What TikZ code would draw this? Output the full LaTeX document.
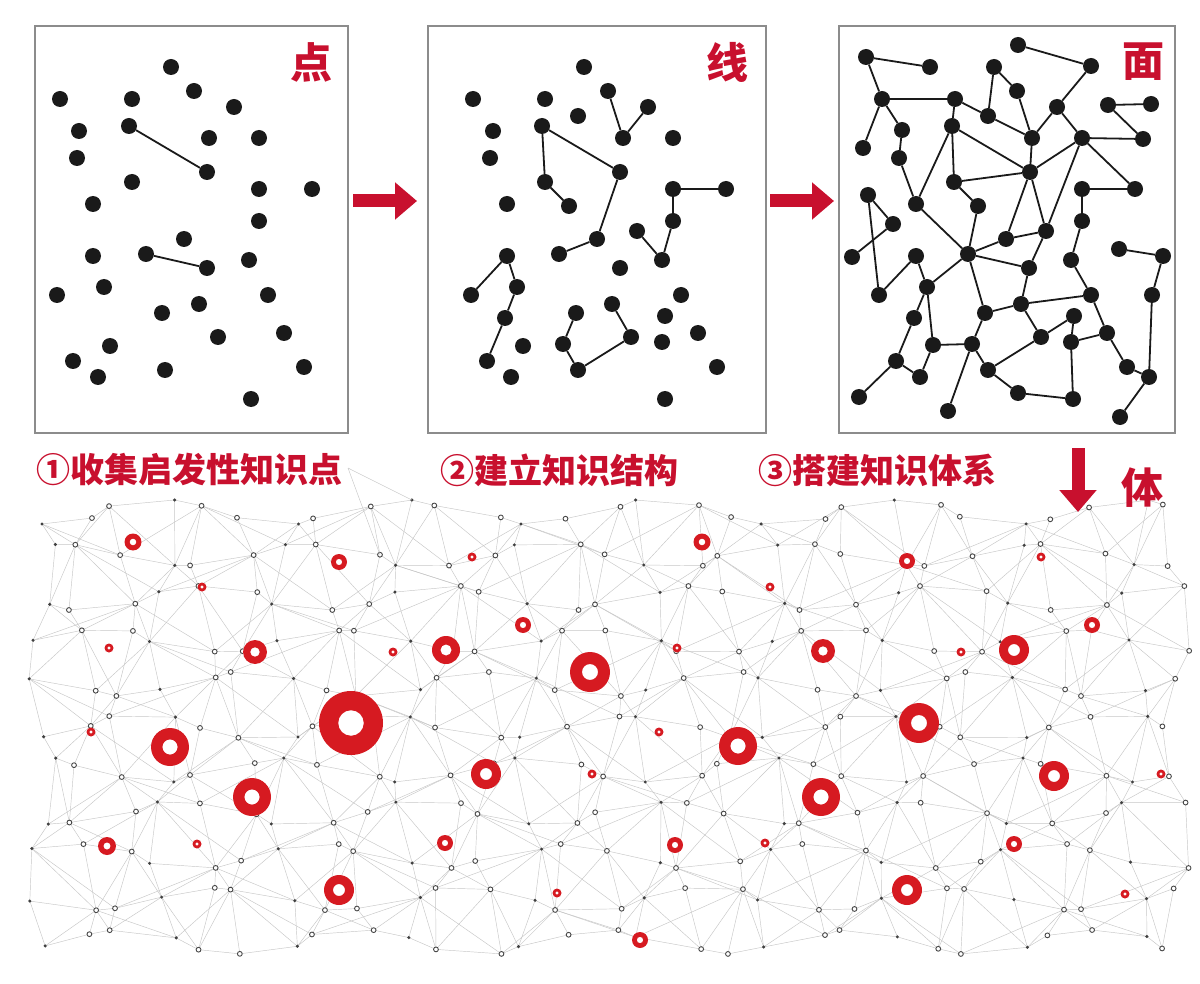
\documentclass[tikz,border=0pt]{standalone}
\usepackage{fontspec}
\newfontfamily\cjk{Noto Sans CJK SC}
\usetikzlibrary{arrows.meta}
\definecolor{cnred}{RGB}{200,16,46}
\definecolor{ringred}{RGB}{214,26,33}
\definecolor{dotblk}{RGB}{26,26,26}
\tikzset{
  blackdot/.style={circle,fill=dotblk,inner sep=0pt,minimum size=16pt},
  link/.style={line width=1.8pt,draw=dotblk},
  panel/.style={draw=black!45,line width=1.2pt,inner sep=0pt},
  mesh/.style={draw=black!22,line width=0.45pt},
  lab/.style={font=\cjk\bfseries\fontsize{34pt}{34pt}\selectfont,text=cnred,inner sep=0pt},
  biglab/.style={font=\cjk\bfseries\fontsize{42pt}{42pt}\selectfont,text=cnred,inner sep=0pt},
  redarrow/.style={draw=cnred,line width=13pt,-{Triangle[length=22pt,width=36pt]}},
}
\newcommand{\myring}[3]{%
  \pgfmathsetmacro\rout{#3}%
  \pgfmathsetmacro\rin{0.4*#3}%
  \fill[white] (#1,#2) circle (\rout pt);
  \fill[ringred,even odd rule] (#1,#2) circle (\rout pt) circle (\rin pt);}
\begin{document}
\begin{tikzpicture}[x=1pt,y=-1pt]
\useasboundingbox (0,0) rectangle (1200,984);
\fill[white] (0,0) rectangle (1200,984);

% ---------- mesh ----------
\foreach \i in {0,...,28}{\foreach \j in {0,...,10}{
  \pgfmathsetmacro\px{42+\i*40.5+14*sin(\i*137.5+\j*73.3)}
  \pgfmathsetmacro\py{512+\j*43+12*cos(\i*59.7+\j*151.1)}
  \coordinate (m-\i-\j) at (\px,\py);
}}
\foreach \i in {0,...,27}{\foreach \j in {0,...,10}{
  \pgfmathtruncatemacro\ia{\i+1}
  \draw[mesh] (m-\i-\j) -- (m-\ia-\j);
}}
\foreach \i in {0,...,28}{\foreach \j in {0,...,9}{
  \pgfmathtruncatemacro\jb{\j+1}
  \draw[mesh] (m-\i-\j) -- (m-\i-\jb);
}}
\foreach \i in {0,...,27}{\foreach \j in {0,...,9}{
  \pgfmathtruncatemacro\ia{\i+1}
  \pgfmathtruncatemacro\jb{\j+1}
  \pgfmathtruncatemacro\pp{mod(\i+\j,2)}
  \ifnum\pp=0 \draw[mesh] (m-\i-\j) -- (m-\ia-\jb);
  \else \draw[mesh] (m-\ia-\j) -- (m-\i-\jb); \fi
}}
\foreach \i in {0,...,26}{\foreach \j in {0,...,9}{
  \pgfmathtruncatemacro\ib{\i+2}
  \pgfmathtruncatemacro\jb{\j+1}
  \pgfmathtruncatemacro\qq{mod(\i*3+\j*5,4)}
  \ifnum\qq=0 \draw[mesh] (m-\i-\j) -- (m-\ib-\jb); \fi
  \ifnum\qq=2 \draw[mesh] (m-\ib-\j) -- (m-\i-\jb); \fi
}}
\foreach \i in {0,...,28}{\foreach \j in {0,...,10}{
  \pgfmathtruncatemacro\tq{mod(\i*7+\j*3,3)}
  \ifnum\tq=0 \fill[black!75] (m-\i-\j) circle (1.7pt);
  \else \draw[black!72,line width=0.9pt,fill=white] (m-\i-\j) circle (2.4pt); \fi
}}
\coordinate (lt) at (348,468);
\draw[mesh] (lt) -- (m-8-1);
\draw[mesh] (lt) -- (m-9-0);

% ---------- rings ----------
\foreach \x/\y/\r in {133/542/8.5, 339/562/8, 202/587/4.5, 109/648/4.5, 255/652/12,
  393/652/4.5, 446/650/14, 472/557/4.5, 523/625/8, 590/672/20, 351/723/32,
  170/747/19, 91/732/4.5, 252/797/19, 107/846/9, 197/844/4.5, 339/890/15,
  486/774/15, 592/774/4.5, 445/843/8, 557/893/4.5, 640/940/8, 675/845/8,
  659/732/4.5, 677/648/4.5, 702/542/8.5, 770/587/4.5, 738/746/19, 823/651/12,
  907/561/8, 1041/557/4.5, 1092/625/8, 1014/650/15, 961/652/4.5, 919/723/20,
  821/797/19, 1054/776/15, 1161/774/4.5, 765/843/4.5, 1014/844/8, 907/890/15,
  1125/894/4.5}
  {\myring{\x}{\y}{\r}}

% ---------- panels ----------
\node[panel,minimum width=313pt,minimum height=407pt] (box1) at (191.5,229.5) {};
\node[panel,minimum width=338pt,minimum height=407pt] (box2) at (597,229.5) {};
\node[panel,minimum width=336pt,minimum height=407pt] (box3) at (1007,229.5) {};

\node[biglab] (t1) at (311,62) {点};
\node[biglab] (t2) at (727,62) {线};
\node[biglab] (t3) at (1143,62) {面};

% panel 1
\foreach \n/\x/\y in {1/171/67,2/194/91,3/60/99,4/132/99,5/234/107,6/79/131,7/129/126,
  8/209/138,9/259/138,10/77/158,11/207/172,12/132/182,13/259/189,14/312/189,15/93/204,
  16/259/221,17/184/239,18/93/256,19/146/254,20/207/268,21/249/260,22/104/287,23/57/295,
  24/268/295,25/199/304,26/162/313,27/284/333,28/218/337,29/110/346,30/73/361,31/165/370,
  32/304/367,33/98/377,34/251/399}
  {\node[blackdot] (A\n) at (\x,\y) {};}
\foreach \a/\b in {7/11,19/20} {\draw[link] (A\a) -- (A\b);}

% panel 2
\foreach \n/\x/\y in {1/584/67,2/608/91,3/473/99,4/545/99,5/648/107,6/578/116,7/493/131,
  8/542/126,9/623/138,10/673/138,11/490/158,12/620/172,13/545/182,14/673/189,15/726/189,
  16/569/206,17/507/204,18/673/221,19/637/231,20/597/239,21/559/254,22/507/256,23/662/260,
  24/620/268,25/517/287,26/471/295,27/681/295,28/612/304,29/576/313,30/665/316,31/505/318,
  32/631/337,33/698/333,34/523/346,35/563/344,36/662/342,37/487/361,38/578/370,39/717/367,
  40/511/377,41/665/399}
  {\node[blackdot] (B\n) at (\x,\y) {};}
\foreach \a/\b in {2/9,9/5,8/12,8/13,13/16,12/20,20/21,14/15,14/18,18/23,23/19,22/26,
  22/25,25/31,31/37,29/35,35/38,38/32,32/28} {\draw[link] (B\a) -- (B\b);}

% panel 3
\foreach \n/\x/\y in {1/1018/45,2/866/57,3/930/67,4/1091/66,5/994/67,6/1017/91,7/882/99,
  8/955/99,9/1057/107,10/1108/105,11/1151/104,12/988/116,13/952/126,14/902/130,15/1032/138,
  16/1082/138,17/1143/139,18/863/148,19/899/158,20/1030/172,21/954/182,22/1082/189,
  23/1135/189,24/868/195,25/916/204,26/978/206,27/893/224,28/1082/221,29/1046/231,
  30/1006/239,31/852/257,32/1119/249,33/1163/256,34/916/256,35/968/254,36/1071/260,
  37/1029/268,38/879/295,39/927/287,40/1091/295,41/1152/295,42/1021/304,43/985/313,
  44/1074/316,45/914/318,46/1041/337,47/1107/333,48/933/345,49/972/344,50/1071/342,
  51/896/361,52/988/370,53/1127/367,54/1149/377,55/920/377,56/1018/393,57/1073/399,
  58/859/397,59/948/411,60/1120/417}
  {\node[blackdot] (C\n) at (\x,\y) {};}
\foreach \a/\b in {2/3,2/7,1/4,4/9,5/6,5/12,7/8,7/18,7/14,8/12,8/13,12/15,6/15,9/15,
  9/16,10/11,10/17,16/17,16/23,16/20,16/29,15/20,13/20,13/21,13/25,14/19,19/25,21/26,
  26/35,20/21,20/30,20/29,25/35,22/23,22/28,28/36,36/40,24/27,24/38,27/31,38/34,34/39,
  35/39,35/30,35/37,35/43,29/30,29/37,37/42,39/45,39/48,45/51,51/55,51/58,48/55,48/49,
  43/49,43/42,42/40,42/46,46/44,49/52,49/59,52/46,52/56,56/57,50/47,44/50,50/57,40/47,
  47/53,53/54,32/33,33/41,41/54,54/60} {\draw[link] (C\a) -- (C\b);}

% ---------- arrows ----------
\coordinate (r1s) at (353,201); \coordinate (r1e) at (417,201);
\coordinate (r2s) at (770,201); \coordinate (r2e) at (834,201);
\coordinate (r3s) at (1078,448); \coordinate (r3e) at (1078,512);
\draw[redarrow] (r1s) -- (r1e);
\draw[redarrow] (r2s) -- (r2e);
\draw[redarrow] (r3s) -- (r3e);

% ---------- labels ----------
\node[lab,anchor=west] (s1) at (36,470) {①收集启发性知识点};
\node[lab,anchor=west] (s2) at (440,470) {②建立知识结构};
\node[lab,anchor=west] (s3) at (758,470) {③搭建知识体系};
\node[biglab] (t4) at (1142,488) {体};
\end{tikzpicture}
\end{document}
